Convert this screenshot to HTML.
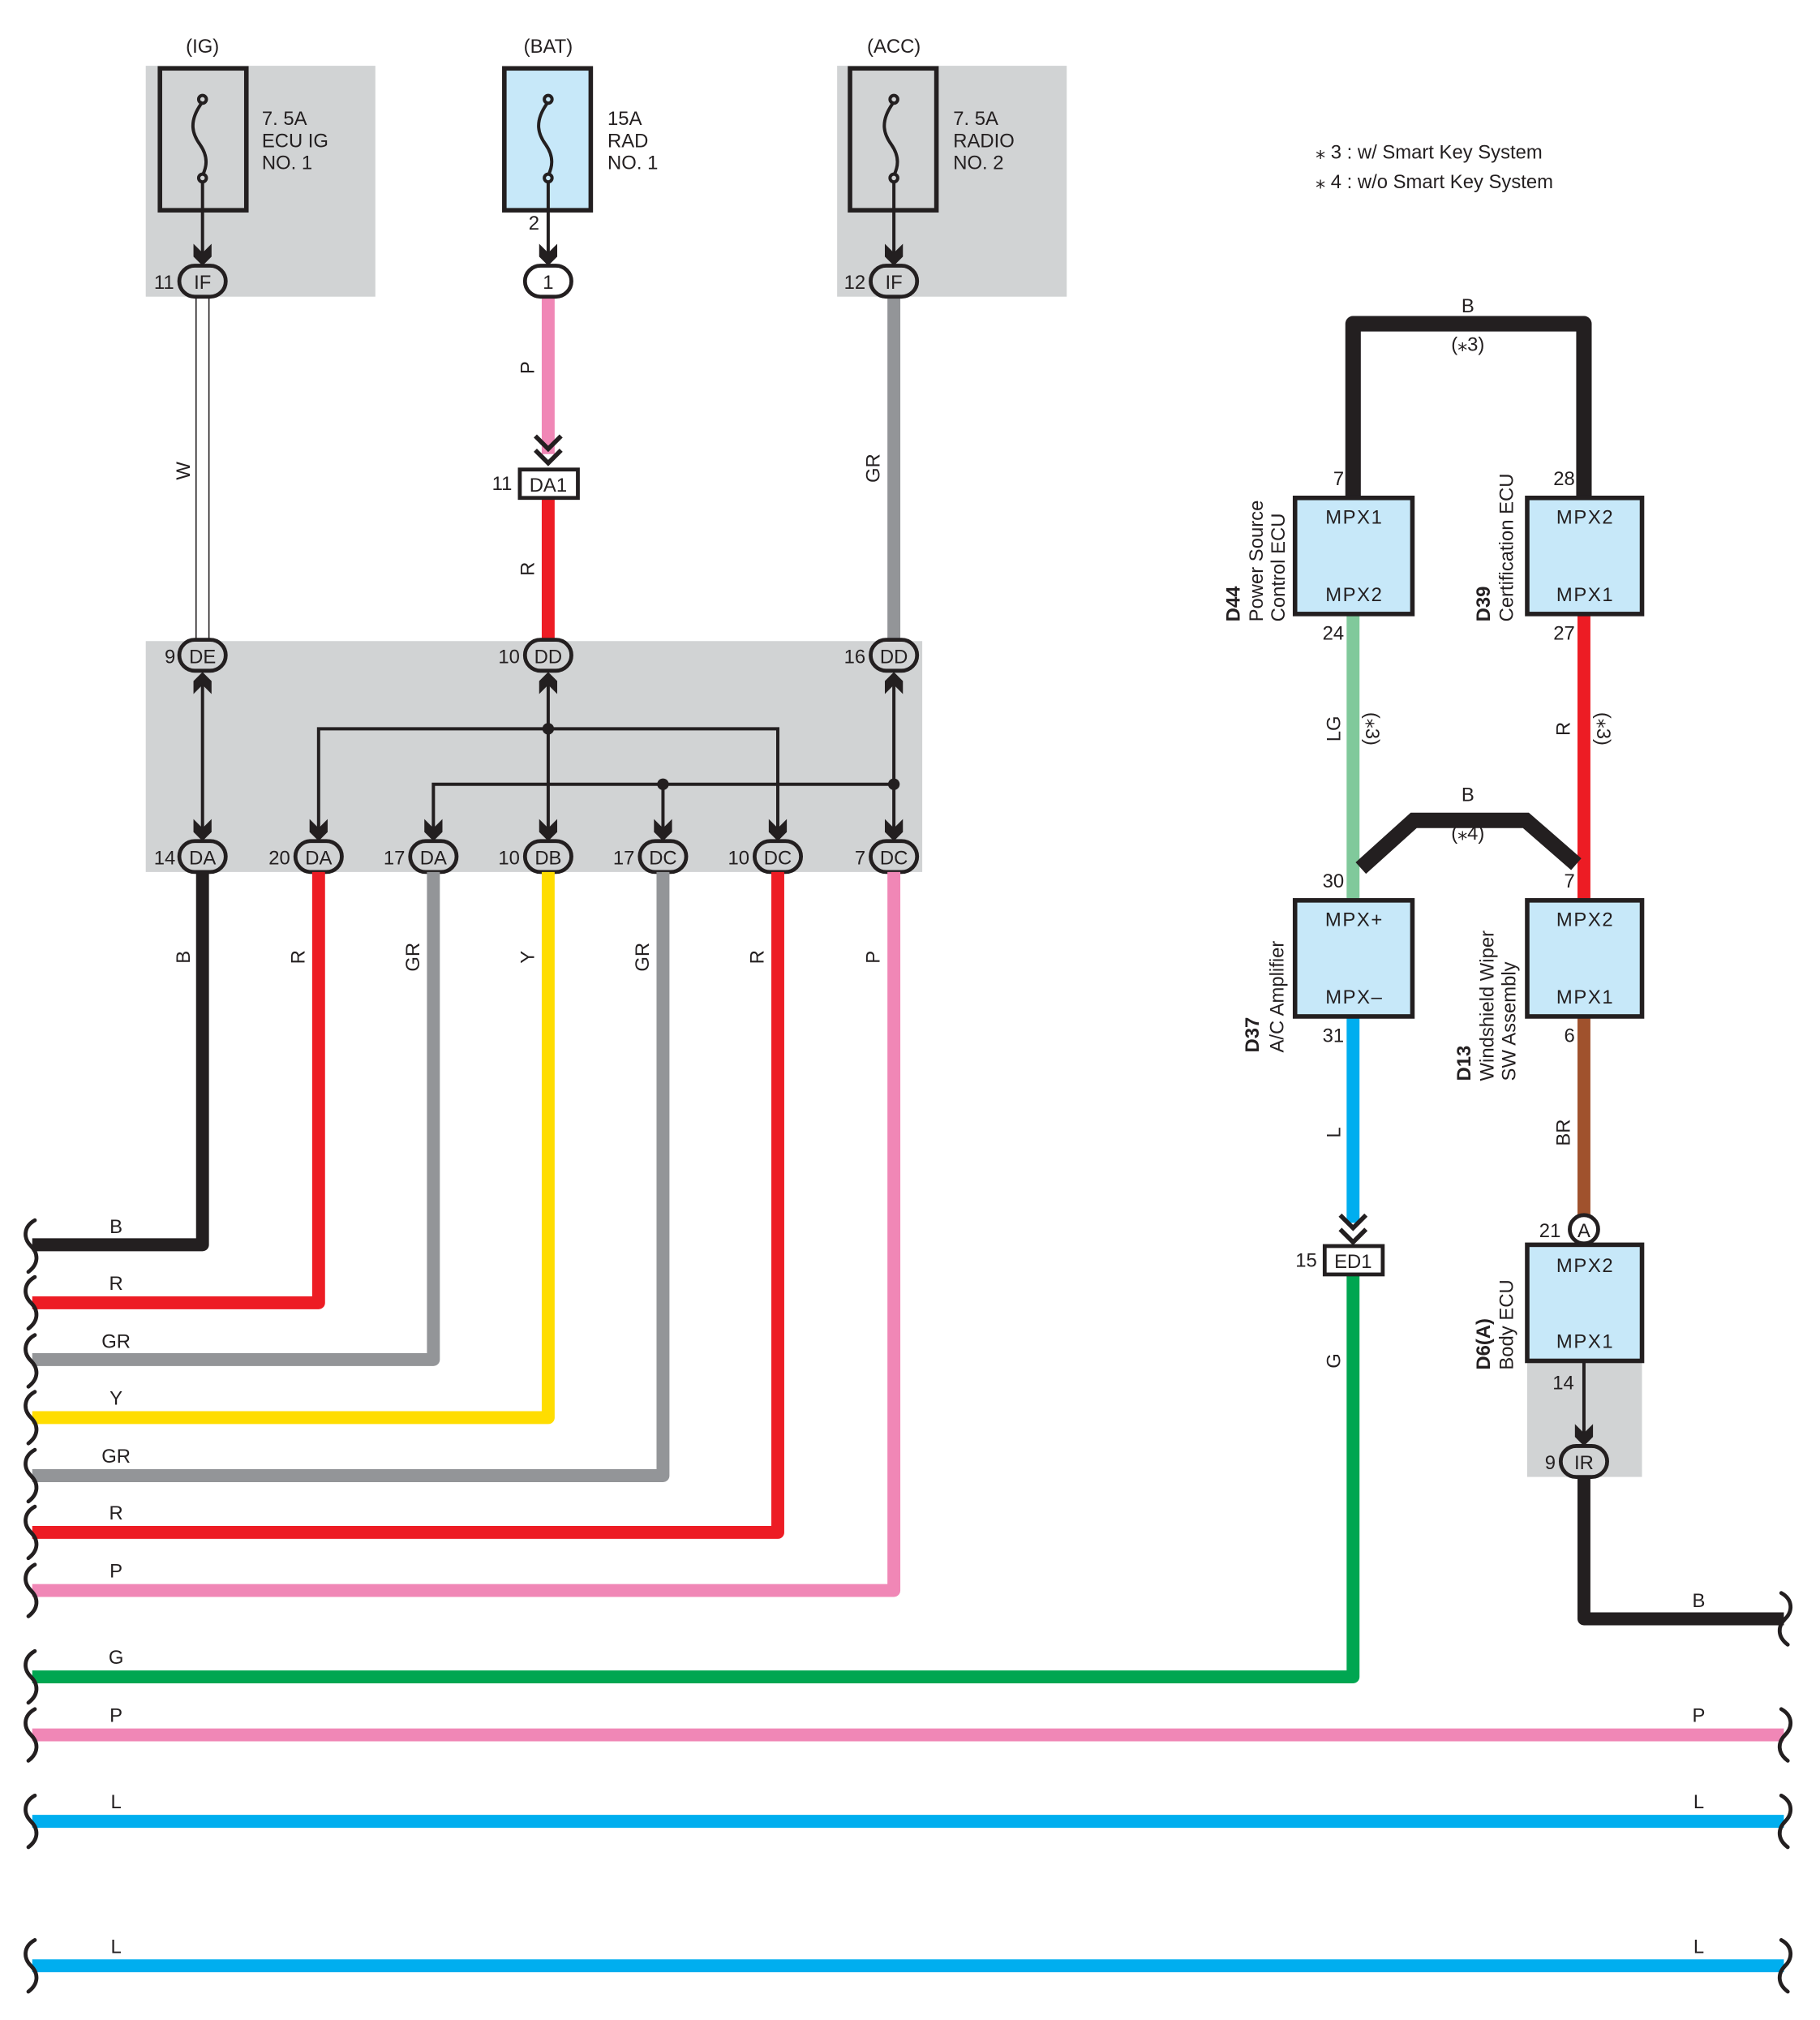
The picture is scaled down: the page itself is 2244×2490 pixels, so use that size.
<!DOCTYPE html>
<html><head><meta charset="utf-8"><style>html,body{margin:0;padding:0;background:#fff}svg{display:block}</style></head>
<body>
<svg xmlns="http://www.w3.org/2000/svg" width="2244" height="2490" viewBox="0 0 1411 1566" preserveAspectRatio="none" font-family="Liberation Sans, Arial, sans-serif" fill="#231f20">
<defs>
<path id="ad" d="M-7,-17 L0,-10 L7,-17 L7,-7 L0,0 L-7,-7Z"/>
<path id="brl" d="M3,-20 C-6,-15 -6,-6 0,0 C6,6 6,14 -2,20" fill="none" stroke="#231f20" stroke-width="3" stroke-linecap="round"/>
<path id="brr" d="M-3,-20 C6,-15 6,-6 0,0 C-6,6 -6,14 2,20" fill="none" stroke="#231f20" stroke-width="3" stroke-linecap="round"/>
</defs>
<!-- gray backgrounds -->
<rect x="113" y="51" width="178" height="179" fill="#d1d3d4"/>
<rect x="649" y="51" width="178" height="179" fill="#d1d3d4"/>
<rect x="113" y="497" width="602" height="179" fill="#d1d3d4"/>
<rect x="1184" y="1055" width="89" height="90" fill="#d1d3d4"/>

<g font-size="15" text-anchor="middle">
<text x="157" y="41">(IG)</text><text x="425" y="41">(BAT)</text><text x="693" y="41">(ACC)</text>
</g>
<!-- fuses -->
<rect x="124" y="53" width="67" height="110" fill="none" stroke="#231f20" stroke-width="3.5"/>
<rect x="391" y="53" width="67" height="110" fill="#c7e8f9" stroke="#231f20" stroke-width="3.5"/>
<rect x="659" y="53" width="67" height="110" fill="none" stroke="#231f20" stroke-width="3.5"/>
<g fill="none" stroke="#231f20" stroke-width="2.5">
<path d="M157,79 C145,95 150,105 155,112 C162,122 160,130 157,136"/><circle cx="157" cy="77" r="3"/><circle cx="157" cy="138" r="3"/>
<path d="M425,79 C413,95 418,105 423,112 C430,122 428,130 425,136"/><circle cx="425" cy="77" r="3"/><circle cx="425" cy="138" r="3"/>
<path d="M693,79 C681,95 686,105 691,112 C698,122 696,130 693,136"/><circle cx="693" cy="77" r="3"/><circle cx="693" cy="138" r="3"/>
<line x1="157" y1="141" x2="157" y2="200"/><line x1="425" y1="141" x2="425" y2="200"/><line x1="693" y1="141" x2="693" y2="200"/>
</g>
<g font-size="15">
<text x="203" y="97">7. 5A</text><text x="203" y="114">ECU IG</text><text x="203" y="131">NO. 1</text>
<text x="471" y="97">15A</text><text x="471" y="114">RAD</text><text x="471" y="131">NO. 1</text>
<text x="739" y="97">7. 5A</text><text x="739" y="114">RADIO</text><text x="739" y="131">NO. 2</text>
</g>
<use href="#ad" x="157" y="206"/><use href="#ad" x="425" y="206"/><use href="#ad" x="693" y="206"/>

<!-- wires top -->
<line x1="152" y1="230" x2="152" y2="497" stroke="#231f20" stroke-width="1"/>
<line x1="162" y1="230" x2="162" y2="497" stroke="#231f20" stroke-width="1"/>
<line x1="425" y1="230" x2="425" y2="352" stroke="#f087b6" stroke-width="10"/>
<line x1="425" y1="386" x2="425" y2="497" stroke="#ed1c24" stroke-width="10"/>
<line x1="693" y1="230" x2="693" y2="497" stroke="#939598" stroke-width="10"/>
<g fill="none" stroke="#231f20" stroke-width="3.5"><polyline points="415,338 425,348 435,338"/><polyline points="415,349 425,359 435,349"/></g>
<rect x="403" y="364" width="45" height="22" fill="#fff" stroke="#231f20" stroke-width="3"/>
<text x="425" y="381" font-size="15" text-anchor="middle">DA1</text>
<text x="397" y="380" font-size="15" text-anchor="end">11</text>
<text x="414" y="178" font-size="15" text-anchor="middle">2</text>

<!-- top connectors -->
<g fill="none" stroke="#231f20" stroke-width="3">
<rect x="139" y="206" width="36" height="24" rx="12"/><rect x="407" y="206" width="36" height="24" rx="12" fill="#fff"/><rect x="675" y="206" width="36" height="24" rx="12"/>
</g>
<g font-size="15" text-anchor="middle"><text x="157" y="224">IF</text><text x="425" y="224">1</text><text x="693" y="224">IF</text></g>
<g font-size="15" text-anchor="end"><text x="135" y="224">11</text><text x="671" y="224">12</text></g>

<!-- vertical wire labels -->
<g font-size="15" text-anchor="middle">
<text transform="translate(147,365) rotate(-90)">W</text>
<text transform="translate(414,285) rotate(-90)">P</text>
<text transform="translate(414,441) rotate(-90)">R</text>
<text transform="translate(682,363) rotate(-90)">GR</text>
</g>

<!-- junction internals -->
<g stroke="#231f20" stroke-width="2.5" fill="none">
<line x1="157" y1="525" x2="157" y2="648"/>
<line x1="425" y1="525" x2="425" y2="648"/>
<line x1="693" y1="525" x2="693" y2="648"/>
<polyline points="247,648 247,565 603,565 603,648"/>
<polyline points="336,648 336,608 693,608"/>
<line x1="514" y1="608" x2="514" y2="648"/>
</g>
<circle cx="425" cy="565" r="4.5"/><circle cx="514" cy="608" r="4.5"/><circle cx="693" cy="608" r="4.5"/>
<g transform="translate(157,521) scale(1,-1)"><use href="#ad"/></g>
<g transform="translate(425,521) scale(1,-1)"><use href="#ad"/></g>
<g transform="translate(693,521) scale(1,-1)"><use href="#ad"/></g>
<use href="#ad" x="157" y="652"/><use href="#ad" x="247" y="652"/><use href="#ad" x="336" y="652"/><use href="#ad" x="425" y="652"/><use href="#ad" x="514" y="652"/><use href="#ad" x="603" y="652"/><use href="#ad" x="693" y="652"/>
<g fill="none" stroke="#231f20" stroke-width="3">
<rect x="139" y="496" width="36" height="24" rx="12"/><rect x="407" y="496" width="36" height="24" rx="12"/><rect x="675" y="496" width="36" height="24" rx="12"/>
<rect x="139" y="652" width="36" height="24" rx="12"/><rect x="229" y="652" width="36" height="24" rx="12"/><rect x="318" y="652" width="36" height="24" rx="12"/><rect x="407" y="652" width="36" height="24" rx="12"/><rect x="496" y="652" width="36" height="24" rx="12"/><rect x="585" y="652" width="36" height="24" rx="12"/><rect x="675" y="652" width="36" height="24" rx="12"/>
</g>
<g font-size="15" text-anchor="middle">
<text x="157" y="514">DE</text><text x="425" y="514">DD</text><text x="693" y="514">DD</text>
<text x="157" y="670">DA</text><text x="247" y="670">DA</text><text x="336" y="670">DA</text><text x="425" y="670">DB</text><text x="514" y="670">DC</text><text x="603" y="670">DC</text><text x="693" y="670">DC</text>
</g>
<g font-size="15" text-anchor="end">
<text x="136" y="514">9</text><text x="403" y="514">10</text><text x="671" y="514">16</text>
<text x="136" y="670">14</text><text x="225" y="670">20</text><text x="314" y="670">17</text><text x="403" y="670">10</text><text x="492" y="670">17</text><text x="581" y="670">10</text><text x="671" y="670">7</text>
</g>

<!-- lower wires -->
<g fill="none" stroke-width="10" stroke-linejoin="round">
<polyline points="157,676 157,965 25,965" stroke="#231f20"/>
<polyline points="247,676 247,1010 25,1010" stroke="#ed1c24"/>
<polyline points="336,676 336,1054 25,1054" stroke="#939598"/>
<polyline points="425,676 425,1099 25,1099" stroke="#ffdd00"/>
<polyline points="514,676 514,1144 25,1144" stroke="#939598"/>
<polyline points="603,676 603,1188 25,1188" stroke="#ed1c24"/>
<polyline points="693,676 693,1233 25,1233" stroke="#f087b6"/>
<polyline points="1049,988 1049,1300 25,1300" stroke="#00a651"/>
<line x1="25" y1="1345" x2="1383" y2="1345" stroke="#f087b6"/>
<line x1="25" y1="1412" x2="1383" y2="1412" stroke="#00aeef"/>
<line x1="25" y1="1524" x2="1383" y2="1524" stroke="#00aeef"/>
<polyline points="1228,1145 1228,1255 1383,1255" stroke="#231f20"/>
</g>
<g font-size="15" text-anchor="middle">
<text transform="translate(147,742) rotate(-90)">B</text>
<text transform="translate(236,742) rotate(-90)">R</text>
<text transform="translate(325,742) rotate(-90)">GR</text>
<text transform="translate(414,742) rotate(-90)">Y</text>
<text transform="translate(503,742) rotate(-90)">GR</text>
<text transform="translate(592,742) rotate(-90)">R</text>
<text transform="translate(682,742) rotate(-90)">P</text>
<text x="90" y="956">B</text><text x="90" y="1000">R</text><text x="90" y="1045">GR</text><text x="90" y="1089">Y</text><text x="90" y="1134">GR</text><text x="90" y="1178">R</text><text x="90" y="1223">P</text>
<text x="90" y="1290">G</text><text x="90" y="1335">P</text><text x="90" y="1402">L</text><text x="90" y="1514">L</text>
<text x="1317" y="1246">B</text><text x="1317" y="1335">P</text><text x="1317" y="1402">L</text><text x="1317" y="1514">L</text>
</g>
<use href="#brl" x="24" y="966"/><use href="#brl" x="24" y="1010"/><use href="#brl" x="24" y="1055"/><use href="#brl" x="24" y="1099"/><use href="#brl" x="24" y="1144"/><use href="#brl" x="24" y="1188"/><use href="#brl" x="24" y="1233"/><use href="#brl" x="24" y="1300"/><use href="#brl" x="24" y="1345"/><use href="#brl" x="24" y="1412"/><use href="#brl" x="24" y="1524"/>
<use href="#brr" x="1384" y="1255"/><use href="#brr" x="1384" y="1345"/><use href="#brr" x="1384" y="1412"/><use href="#brr" x="1384" y="1524"/>

<!-- notes -->
<g font-size="15"><text x="1020" y="123">⁎ 3 : w/ Smart Key System</text><text x="1020" y="146">⁎ 4 : w/o Smart Key System</text></g>

<!-- right section -->
<polyline points="1049,386 1049,251 1228,251 1228,386" fill="none" stroke="#231f20" stroke-width="12" stroke-linejoin="round"/>
<line x1="1049" y1="476" x2="1049" y2="697" stroke="#80c99b" stroke-width="10"/>
<line x1="1228" y1="476" x2="1228" y2="697" stroke="#ed1c24" stroke-width="10"/>
<polyline points="1055,673 1096,636 1183,636 1222,670" fill="none" stroke="#231f20" stroke-width="12"/>
<line x1="1049" y1="788" x2="1049" y2="948" stroke="#00aeef" stroke-width="10"/>
<line x1="1228" y1="788" x2="1228" y2="942" stroke="#a0522d" stroke-width="10"/>
<g fill="none" stroke="#231f20" stroke-width="3.5"><polyline points="1039,942 1049,952 1059,942"/><polyline points="1039,953 1049,963 1059,953"/></g>
<rect x="1027" y="966" width="45" height="22" fill="#fff" stroke="#231f20" stroke-width="3"/>
<text x="1049" y="983" font-size="15" text-anchor="middle">ED1</text>
<text x="1021" y="982" font-size="15" text-anchor="end">15</text>
<circle cx="1228" cy="953" r="11" fill="#fff" stroke="#231f20" stroke-width="3"/>
<text x="1228" y="959" font-size="15" text-anchor="middle">A</text>
<text x="1210" y="959" font-size="15" text-anchor="end">21</text>
<line x1="1228" y1="1055" x2="1228" y2="1115" stroke="#231f20" stroke-width="2.5"/>
<use href="#ad" x="1228" y="1121"/>
<rect x="1210" y="1121" width="36" height="24" rx="12" fill="none" stroke="#231f20" stroke-width="3"/>
<text x="1228" y="1139" font-size="15" text-anchor="middle">IR</text>
<text x="1206" y="1139" font-size="15" text-anchor="end">9</text>
<text x="1212" y="1077" font-size="15" text-anchor="middle">14</text>

<g fill="#c7e8f9" stroke="#231f20" stroke-width="3.5">
<rect x="1004" y="386" width="91" height="90"/><rect x="1184" y="386" width="89" height="90"/>
<rect x="1004" y="698" width="91" height="90"/><rect x="1184" y="698" width="89" height="90"/>
<rect x="1184" y="965" width="89" height="90"/>
</g>
<g font-size="15" text-anchor="middle" letter-spacing="1">
<text x="1050" y="406">MPX1</text><text x="1050" y="466">MPX2</text>
<text x="1229" y="406">MPX2</text><text x="1229" y="466">MPX1</text>
<text x="1050" y="718">MPX+</text><text x="1050" y="778">MPX–</text>
<text x="1229" y="718">MPX2</text><text x="1229" y="778">MPX1</text>
<text x="1229" y="986">MPX2</text><text x="1229" y="1045">MPX1</text>
</g>
<g font-size="15" text-anchor="end">
<text x="1042" y="376">7</text><text x="1042" y="496">24</text><text x="1221" y="376">28</text><text x="1221" y="496">27</text>
<text x="1042" y="688">30</text><text x="1042" y="808">31</text><text x="1221" y="688">7</text><text x="1221" y="808">6</text>
</g>
<g font-size="15" text-anchor="middle">
<text x="1138" y="242">B</text><text x="1138" y="272">(⁎3)</text>
<text x="1138" y="621">B</text><text x="1138" y="651">(⁎4)</text>
<text transform="translate(1039,565) rotate(-90)">LG</text>
<text transform="translate(1217,565) rotate(-90)">R</text>
<text transform="translate(1059,565) rotate(90)">(⁎3)</text>
<text transform="translate(1238,565) rotate(90)">(⁎3)</text>
<text transform="translate(1039,878) rotate(-90)">L</text>
<text transform="translate(1217,878) rotate(-90)">BR</text>
<text transform="translate(1039,1055) rotate(-90)">G</text>
</g>
<g font-size="15" text-anchor="start">
<text transform="translate(961,482) rotate(-90)" font-weight="bold">D44</text>
<text transform="translate(979,482) rotate(-90)">Power Source</text>
<text transform="translate(996,482) rotate(-90)">Control ECU</text>
<text transform="translate(1155,482) rotate(-90)" font-weight="bold">D39</text>
<text transform="translate(1173,482) rotate(-90)">Certification ECU</text>
<text transform="translate(976,816) rotate(-90)" font-weight="bold">D37</text>
<text transform="translate(995,816) rotate(-90)">A/C Amplifier</text>
<text transform="translate(1140,838) rotate(-90)" font-weight="bold">D13</text>
<text transform="translate(1158,838) rotate(-90)">Windshield Wiper</text>
<text transform="translate(1175,838) rotate(-90)">SW Assembly</text>
<text transform="translate(1155,1062) rotate(-90)" font-weight="bold">D6(A)</text>
<text transform="translate(1173,1062) rotate(-90)">Body ECU</text>
</g>
</svg>
</body></html>
